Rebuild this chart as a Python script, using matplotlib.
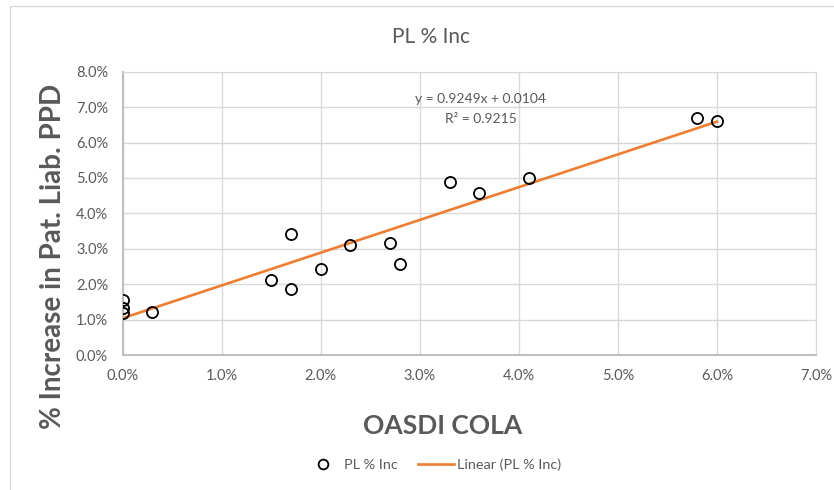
import matplotlib
matplotlib.use("Agg")
import matplotlib.pyplot as plt
from matplotlib.patches import Rectangle
from matplotlib.lines import Line2D
from matplotlib.ticker import FuncFormatter, MultipleLocator
import numpy as np

# OASDI COLA (x) vs % increase in patient liability PPD (y), both in fractions
cola = [0.000, 0.000, 0.000, 0.003, 0.015, 0.017, 0.017, 0.020, 0.023,
        0.027, 0.028, 0.033, 0.036, 0.041, 0.058, 0.060]
pl_inc = [0.0155, 0.0132, 0.0120, 0.0122, 0.0212, 0.0342, 0.0187, 0.0244,
          0.0310, 0.0316, 0.0257, 0.0489, 0.0458, 0.0500, 0.0668, 0.0660]

# Excel linear trendline
slope = 0.9249
intercept = 0.0104
r_squared = 0.9215

GREY = "#595959"
plt.rcParams["font.family"] = ["Lato", "DejaVu Sans"]

fig = plt.figure(figsize=(8.34, 4.90), dpi=100)
fig.patches.append(Rectangle((10 / 834, -0.1), 1.2, 1 - 6 / 490 + 0.1,
                             transform=fig.transFigure, fill=False,
                             edgecolor="#d9d9d9", lw=1.0))

ax = fig.add_axes([0.1471, 0.2755, 0.9784 - 0.1471, 0.8537 - 0.2755])

x_fit = np.array([min(cola), max(cola)])
ax.plot(x_fit, slope * x_fit + intercept, color="#ED7D31", lw=1.9, zorder=2)
ax.plot(cola, pl_inc, "o", mfc="none", mec="black", ms=8, mew=1.3, zorder=3)

ax.set_xlim(0, 0.07)
ax.set_ylim(0, 0.08)
ax.xaxis.set_major_locator(MultipleLocator(0.01))
ax.yaxis.set_major_locator(MultipleLocator(0.01))
pct = FuncFormatter(lambda v, _: f"{v * 100:.1f}%")
ax.xaxis.set_major_formatter(pct)
ax.yaxis.set_major_formatter(pct)
ax.tick_params(length=0, labelsize=10.5, labelcolor=GREY)
ax.tick_params(axis="x", pad=10)
ax.tick_params(axis="y", pad=10.5)
ax.grid(True, color="#d9d9d9", lw=1.0)
ax.set_axisbelow(True)
for side in ["top", "right"]:
    ax.spines[side].set_color("#d9d9d9")
for side in ["left", "bottom"]:
    ax.spines[side].set_color("#bfbfbf")
    ax.spines[side].set_linewidth(1.5)

ax.text(0.0295, 0.0722, f"y = {slope:.4f}x + {intercept:.4f}", fontsize=10,
        color=GREY, va="center", ha="left")
ax.text(0.03256, 0.0666, f"R² = {r_squared:.4f}", fontsize=10,
        color=GREY, va="center", ha="left")

fig.text(431 / 834, 1 - 37 / 490, "PL % Inc", fontsize=15, color=GREY,
         ha="center", va="center")
fig.text(443 / 834, 1 - 426 / 490, "OASDI COLA", fontsize=19, color=GREY,
         fontweight="bold", ha="center", va="center")
fig.text(53 / 834, 1 - 256 / 490, "% Increase in Pat. Liab. PPD", fontsize=20,
         color=GREY, fontweight="bold", rotation=90, ha="center", va="center")

handles = [
    Line2D([], [], ls="none", marker="o", mfc="none", mec="black", ms=7, mew=1.3),
    Line2D([], [], color="#ED7D31", lw=1.9),
]
fig.legend(handles, ["PL % Inc", "Linear (PL % Inc)"], loc="center",
           bbox_to_anchor=(433 / 834, 1 - 465 / 490), ncol=2, frameon=False,
           fontsize=10.4, labelcolor=GREY, handlelength=2.5, columnspacing=1.4,
           handletextpad=0.2, borderpad=0, borderaxespad=0)

fig.savefig("out.png", dpi=100)
